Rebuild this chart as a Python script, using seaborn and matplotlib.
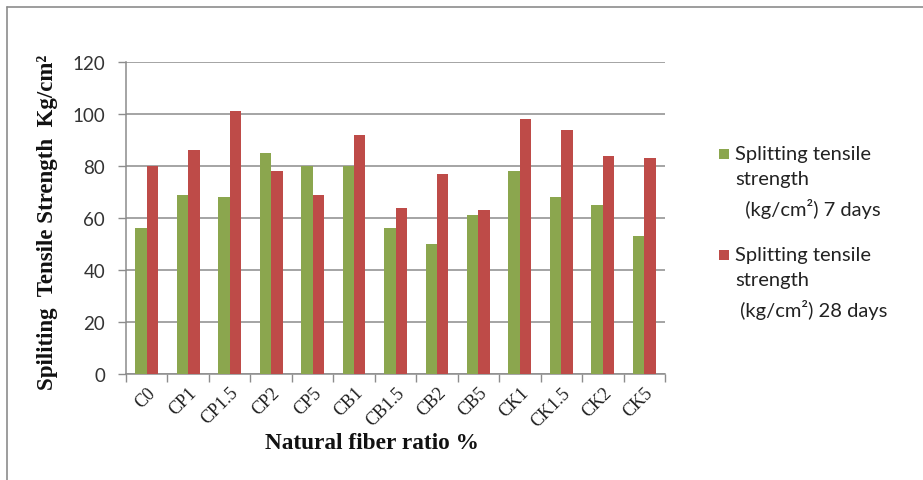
import numpy as np
import pandas as pd
import matplotlib
matplotlib.use("Agg")
import matplotlib.pyplot as plt
import seaborn as sns
from matplotlib.lines import Line2D
from matplotlib.patches import Rectangle

mixes = ["C0", "CP1", "CP1.5", "CP2", "CP5", "CB1", "CB1.5", "CB2", "CB5",
         "CK1", "CK1.5", "CK2", "CK5"]
strength_7d = [56, 69, 68, 85, 80, 80, 56, 50, 61, 78, 68, 65, 53]
strength_28d = [80, 86, 101, 78, 69, 92, 64, 77, 63, 98, 94, 84, 83]
series_names = ["Splitting tensile\nstrength\n  (kg/cm\u00b2) 7 days",
                "Splitting tensile\nstrength\n (kg/cm\u00b2) 28 days"]
series_colors = ["#8BA64E", "#BE4B48"]
y_ticks = [0, 20, 40, 60, 80, 100, 120]

df = pd.DataFrame({
    "mix": mixes * 2,
    "value": strength_7d + strength_28d,
    "series": [series_names[0]] * len(mixes) + [series_names[1]] * len(mixes),
})

sns.set_style("white")
plt.rcParams["font.family"] = ["Lato", "DejaVu Sans"]

W, H = 923, 481
fig = plt.figure(figsize=(W / 100, H / 100), dpi=100)
ax = fig.add_axes([126 / W, 1 - 375 / H, (665 - 126) / W, (375 - 63) / H])

palette = dict(zip(series_names, series_colors))
sns.barplot(data=df, x="mix", y="value", hue="series", order=mixes,
            hue_order=series_names, palette=palette, width=0.55,
            saturation=1, ax=ax, zorder=3, edgecolor="none", legend=False)

ax.set_ylim(0, 120)
ax.set_xlim(-0.5, len(mixes) - 0.5)
ax.set_yticks(y_ticks)
ax.set_yticklabels([str(v) for v in y_ticks], fontsize=13.5, color="#333333")
ax.yaxis.grid(True, color="#8c8c8c", linewidth=1.1, zorder=0)
ax.xaxis.grid(False)

for side in ["top", "right"]:
    ax.spines[side].set_visible(False)
for side in ["left", "bottom"]:
    ax.spines[side].set_color("#8c8c8c")
    ax.spines[side].set_linewidth(1.1)

ax.tick_params(axis="y", which="major", left=True, length=6, width=1,
               color="#8c8c8c", pad=9)
ax.set_xticks(range(len(mixes)))
ax.set_xticklabels(mixes, rotation=45, ha="right", rotation_mode="anchor",
                   fontsize=13, family="Liberation Serif", color="#222222")
ax.tick_params(axis="x", which="major", length=0, pad=7)
ax.set_xticks(np.arange(-0.5, len(mixes), 1), minor=True)
ax.tick_params(axis="x", which="minor", bottom=True, length=6, width=1,
               color="#8c8c8c")

ax.set_xlabel("Natural fiber ratio %", family="Liberation Serif",
              fontweight="bold", fontsize=16.8, color="#111111")
ax.xaxis.set_label_coords(0.457, -0.185)
ax.set_ylabel("Spiliting  Tensile Strength  Kg/cm\u00b2",
              family="Liberation Serif", fontweight="bold", fontsize=16.5,
              color="#111111")
ax.yaxis.set_label_coords(-0.127, 0.49)

# legend: colour square aligned with the first line of each wrapped label
legend_rows = [155, 256]
for name, color, yc in zip(series_names, series_colors, legend_rows):
    fig.add_artist(Rectangle((719 / W, 1 - (yc + 5) / H), 10 / W, 10 / H,
                             transform=fig.transFigure, facecolor=color,
                             edgecolor="none"))
    fig.text(735 / W, 1 - (yc - 9) / H, name, ha="left", va="top",
             fontsize=14.5, color="#222222", linespacing=1.6)

fig.add_artist(Line2D([7 / W, 7 / W], [0, 1 - 8 / H], transform=fig.transFigure,
                      color="#8c8c8c", linewidth=1.2))
fig.add_artist(Line2D([7 / W, 1], [1 - 8 / H, 1 - 8 / H],
                      transform=fig.transFigure, color="#8c8c8c",
                      linewidth=1.2))

fig.savefig("out.png", dpi=100, facecolor="white")
